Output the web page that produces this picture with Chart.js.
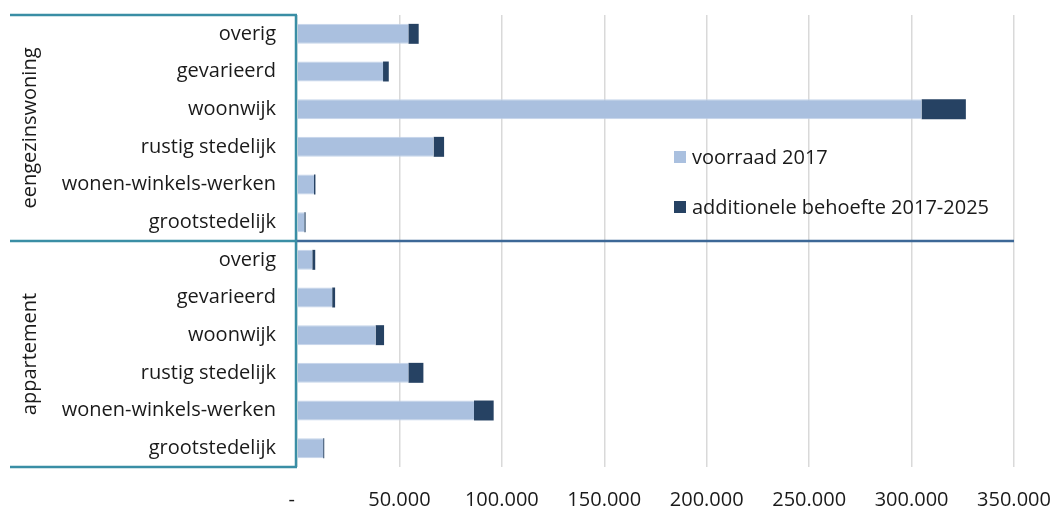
<!DOCTYPE html>
<html>
<head>
<meta charset="utf-8">
<script src="https://cdn.jsdelivr.net/npm/chart.js@4/dist/chart.umd.min.js"></script>
<style>
  html, body { margin: 0; padding: 0; background: #ffffff; }
  #wrap { width: 1055px; height: 507px; position: relative; }
</style>
</head>
<body>
<div id="wrap"><canvas id="chart"></canvas></div>
<script>
// Woningtypes (groepen) en woonmilieus
const groups = ['eengezinswoning', 'appartement'];
const milieus = ['overig', 'gevarieerd', 'woonwijk', 'rustig stedelijk', 'wonen-winkels-werken', 'grootstedelijk'];

// Voorraad 2017 per woonmilieu: eerst eengezinswoningen, dan appartementen
const voorraad2017 = [54400, 42000, 304900, 66700, 8300, 3600,
                      7500, 17200, 38400, 54400, 86400, 12800];
// Additionele behoefte 2017-2025, zelfde volgorde
const additioneleBehoefte = [5000, 2800, 21600, 5100, 700, 600,
                             1400, 1400, 4100, 7300, 9600, 500];

const seriesNames = ['voorraad 2017', 'additionele behoefte 2017-2025'];
const xTickValues = [0, 50000, 100000, 150000, 200000, 250000, 300000, 350000];
// boekhoudnotatie: nul als streepje
const xTickLabels = ['-  ', '50.000', '100.000', '150.000', '200.000', '250.000', '300.000', '350.000'];

const FONT = '"Open Sans", "Noto Sans", sans-serif';
const FONT_SIZE = 20;
const TEXT = '#1a1a1a';
const TEAL = '#3a8ea5';
const MIDLINE = '#3d6897';

const categories = [];
groups.forEach(() => milieus.forEach(m => categories.push(m)));

// Groepskaders, middellijn, gedraaide groepsnamen en legenda
const decorations = {
  id: 'decorations',
  afterDatasetsDraw(chart) {
    const { ctx, chartArea: ca, scales: { y } } = chart;
    const perGroup = milieus.length;
    const bounds = [ca.top];
    for (let g = 1; g < groups.length; g++) {
      bounds.push((y.getPixelForValue(g * perGroup - 1) + y.getPixelForValue(g * perGroup)) / 2);
    }
    bounds.push(ca.bottom);

    ctx.save();
    // middellijn tussen de groepen
    ctx.strokeStyle = MIDLINE;
    ctx.lineWidth = 2.5;
    for (let i = 1; i < bounds.length - 1; i++) {
      ctx.beginPath();
      ctx.moveTo(ca.left, bounds[i]);
      ctx.lineTo(ca.right, bounds[i]);
      ctx.stroke();
    }
    // teal kaders links
    ctx.strokeStyle = TEAL;
    ctx.lineWidth = 2.5;
    bounds.forEach(b => {
      ctx.beginPath();
      ctx.moveTo(10, b);
      ctx.lineTo(ca.left, b);
      ctx.stroke();
    });
    ctx.beginPath();
    ctx.moveTo(ca.left - 1, ca.top);
    ctx.lineTo(ca.left - 1, ca.bottom);
    ctx.stroke();

    // gedraaide groepsnamen
    ctx.fillStyle = TEXT;
    ctx.font = FONT_SIZE + 'px ' + FONT;
    ctx.textAlign = 'center';
    ctx.textBaseline = 'middle';
    groups.forEach((g, i) => {
      const cy = (bounds[i] + bounds[i + 1]) / 2;
      ctx.save();
      ctx.translate(30, cy);
      ctx.rotate(-Math.PI / 2);
      ctx.fillText(g, 0, 0);
      ctx.restore();
    });

    // legenda binnen het plotgebied
    const lx = 674, ly = [157, 207];
    ctx.textAlign = 'left';
    chart.data.datasets.forEach((ds, i) => {
      ctx.fillStyle = ds.backgroundColor;
      ctx.fillRect(lx, ly[i] - 6, 12, 12);
      ctx.fillStyle = TEXT;
      ctx.fillText(ds.label, lx + 18, ly[i] + 1);
    });
    ctx.restore();
  }
};

new Chart(document.getElementById('chart'), {
  type: 'bar',
  data: {
    labels: categories,
    datasets: [
      { label: seriesNames[0], data: voorraad2017, backgroundColor: '#aac0df',
        borderColor: '#c4d4ea', borderWidth: { top: 1, bottom: 1, left: 0, right: 0 }, borderSkipped: false },
      { label: seriesNames[1], data: additioneleBehoefte, backgroundColor: '#264263' }
    ]
  },
  options: {
    indexAxis: 'y',
    responsive: true,
    maintainAspectRatio: false,
    animation: false,
    layout: { padding: { top: 15, right: 41, left: 0, bottom: 0 } },
    datasets: { bar: { categoryPercentage: 1, barPercentage: 0.53 } },
    plugins: { legend: { display: false }, tooltip: { enabled: false } },
    scales: {
      x: {
        stacked: true,
        min: 0, max: 350000,
        afterBuildTicks(axis) { axis.ticks = xTickValues.map(v => ({ value: v })); },
        afterFit(axis) { axis.height = 40; axis.paddingLeft = 0; axis.paddingRight = 0; },
        border: { display: false },
        grid: { color: '#d9d9d9', lineWidth: 1.5, drawTicks: false },
        ticks: {
          padding: 21,
          color: TEXT,
          maxRotation: 0,
          font: { family: FONT, size: FONT_SIZE },
          callback: (v, i) => xTickLabels[i]
        }
      },
      y: {
        stacked: true,
        afterFit(axis) { axis.width = 297; axis.paddingTop = 0; axis.paddingBottom = 0; },
        border: { display: false },
        grid: { display: false, drawTicks: false },
        ticks: {
          padding: 21,
          color: TEXT,
          autoSkip: false,
          font: { family: FONT, size: FONT_SIZE }
        }
      }
    }
  },
  plugins: [decorations]
});
</script>
</body>
</html>
